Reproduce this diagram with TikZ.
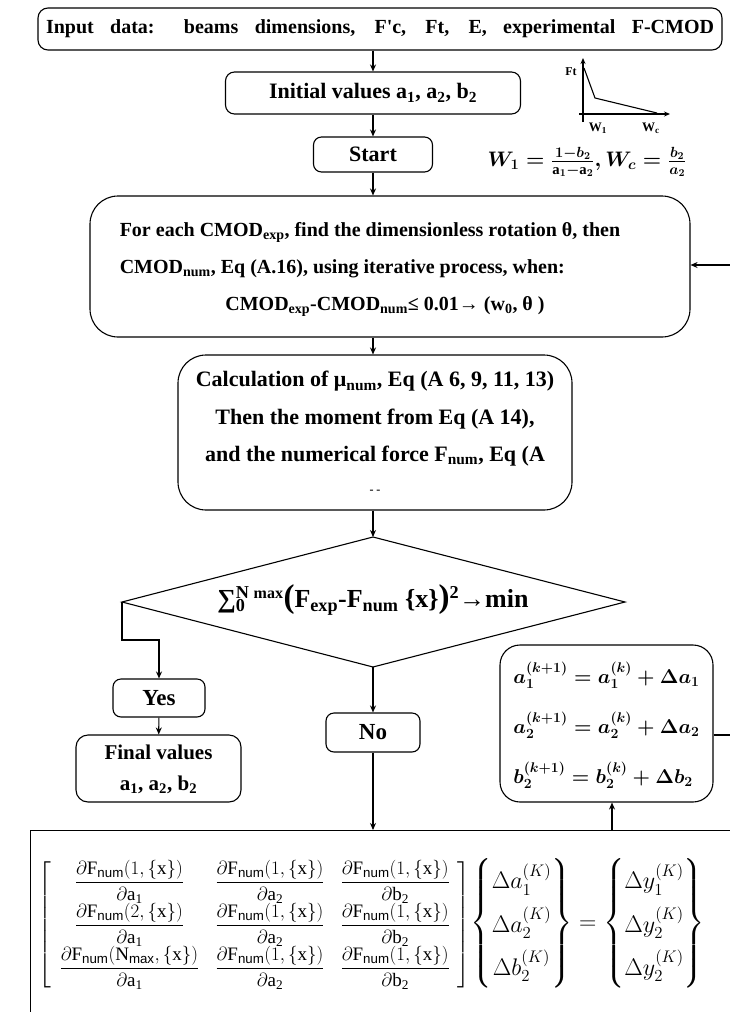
\RequirePackage{fix-cm}
\documentclass[tikz,border=0pt]{standalone}
\usepackage{amsmath,amssymb}
\usepackage{fontspec}
\setmainfont{Liberation Serif}
\setsansfont{Liberation Sans}
\usetikzlibrary{arrows.meta}
\newcommand{\bigpar}[1]{{\fontsize{33}{33}\selectfont #1}}
\newcommand{\dectext}{∑\rlap{\textsubscript{0}}\textsuperscript{N \fontsize{16}{16}\selectfont max}\bigpar{(}F\textsubscript{exp}-F\textsubscript{num} \{x\}\bigpar{)}\textsuperscript{2}→min}
\newcommand{\pf}[2]{\dfrac{\partial \mathrm{F}_{\mathsf{num}}(#1,\{\mathrm{x}\})}{\partial \mathrm{#2}}}
\begin{document}
\begin{tikzpicture}[x=1pt,y=-1pt,
  line width=1.1pt,
  >={Stealth[length=7pt,width=6pt]},
  rbox/.style={draw,rounded corners=#1,inner sep=0pt,align=center},
  lbl/.style={inner sep=0pt},
  fs/.style={font=\bfseries\fontsize{#1}{#1}\selectfont}
]
\useasboundingbox (0,0) rectangle (730,1012);
\coordinate (col) at (373,0);
\coordinate (upx) at (612,0);

% boxes
\node[rbox=10pt,minimum width=684pt,minimum height=42pt,fs=20] (input) at (380,29)
  {\makebox[668pt][s]{Input data: beams dimensions, F\textquotesingle c, Ft, E, experimental F-CMOD}};
\node[rbox=9pt,minimum width=295pt,minimum height=42pt,fs=22] (init) at (373,93)
  {Initial values a\textsubscript{1}, a\textsubscript{2}, b\textsubscript{2}};
\node[rbox=8pt,minimum width=119pt,minimum height=35pt,fs=22] (start) at (373,154.5) {Start};
\node[rbox=28pt,minimum width=600pt,minimum height=141pt,fs=20] (each) at (390,266.5)
  {\renewcommand{\arraystretch}{1.85}\begin{tabular}{@{}l@{}}
   For each CMOD\textsubscript{exp}, find the dimensionless rotation θ, then\\
   CMOD\textsubscript{num}, Eq (A.16), using iterative process, when:\\
   \multicolumn{1}{@{}c@{}}{\hspace{30pt}CMOD\textsubscript{exp}-CMOD\textsubscript{num}≤ 0.01→ (w\textsubscript{0}, θ )}
  \end{tabular}\hspace*{40pt}};
\node[rbox=28pt,minimum width=394pt,minimum height=155pt,fs=22] (calc) at (375,432.5)
  {\renewcommand{\arraystretch}{1.7}\begin{tabular}{@{}c@{}}
   Calculation of μ\textsubscript{num}, Eq (A 6, 9, 11, 13)\\
   Then the moment from Eq (A 14),\\
   and the numerical force F\textsubscript{num}, Eq (A\\[-6pt]
   {\fontsize{12}{12}\selectfont - -}
  \end{tabular}};
\coordinate (dN) at (373,537);
\coordinate (dS) at (373,667);
\coordinate (dW) at (122,602);
\coordinate (dE) at (625,602);
\draw (dN) -- (dE) -- (dS) -- (dW) -- cycle;
\node[lbl,fs=26] (dec) at (373,600) {\dectext};
\node[rbox=8pt,minimum width=92pt,minimum height=38pt,fs=23] (yes) at (159,698) {Yes};
\node[rbox=12pt,minimum width=165pt,minimum height=67pt,fs=21] (final) at (158.5,768.5)
  {\renewcommand{\arraystretch}{1.5}\begin{tabular}{@{}c@{}}Final values\\a\textsubscript{1}, a\textsubscript{2}, b\textsubscript{2}\end{tabular}};
\node[rbox=8pt,minimum width=94pt,minimum height=39pt,fs=23] (no) at (373,732.5) {No};
\node[rbox=20pt,minimum width=213pt,minimum height=157pt,fs=20] (upd) at (606.5,723.5)
  {{\boldmath\renewcommand{\arraystretch}{2.5}\begin{tabular}{@{}l@{}}
   $a_1^{(k+1)} = a_1^{(k)} + \Delta a_1$\\
   $a_2^{(k+1)} = a_2^{(k)} + \Delta a_2$\\
   $b_2^{(k+1)} = b_2^{(k)} + \Delta b_2$
  \end{tabular}}};
\node[draw,sharp corners,minimum width=720pt,minimum height=200pt,anchor=north west,inner sep=0pt] (sys) at (30,830) {};
\node[lbl] (mat) at (372,924) {{\fontsize{19}{19}\selectfont
  $\left[\renewcommand{\arraystretch}{1.05}\setlength{\arraycolsep}{8pt}\begin{array}{ccc}
   \pf{1}{a_1} & \pf{1}{a_2} & \pf{1}{b_2} \\
   \pf{2}{a_1} & \pf{1}{a_2} & \pf{1}{b_2} \\
   \pf{\mathrm{N}_{\mathsf{max}}}{a_1} & \pf{1}{a_2} & \pf{1}{b_2}
  \end{array}\right]$}{\fontsize{24}{24}\selectfont
  $\left\{\renewcommand{\arraystretch}{1.8}\begin{array}{@{}c@{}}
   \Delta a_1^{(K)}\\ \Delta a_2^{(K)}\\ \Delta b_2^{(K)}\end{array}\right\}
  =\left\{\renewcommand{\arraystretch}{1.8}\begin{array}{@{}c@{}}
   \Delta y_1^{(K)}\\ \Delta y_2^{(K)}\\ \Delta y_2^{(K)}\end{array}\right\}$}};

% small chart
\node[lbl,fs=12] (ft) at (571,72) {Ft};
\coordinate (yb) at (583,122);
\coordinate (yt) at (583,58);
\coordinate (xl) at (579,114);
\coordinate (xr) at (670,114);
\draw[-{Stealth[length=6pt,width=5pt]}] (yb) -- (yt);
\draw[-{Stealth[length=6pt,width=5pt]}] (xl) -- (xr);
\coordinate (c1) at (584,68);
\coordinate (c2) at (595,98);
\coordinate (c3) at (657,113);
\draw (c1) -- (c2) -- (c3);
\node[lbl,fs=13] (w1) at (598,128) {W\textsubscript{1}};
\node[lbl,fs=13] (wc) at (651,128) {W\textsubscript{c}};
\node[lbl,font=\fontsize{21}{21}\selectfont] (wform) at (587,162)
  {{\boldmath$W_1=\frac{1-b_2}{\mathrm{a}_1-\mathrm{a}_2}, W_c=\frac{b_2}{a_2}$}};

% connectors
\draw[->] (input.south -| col) -- (init.north -| col);
\draw[->] (init.south -| col) -- (start.north -| col);
\draw[->] (start.south -| col) -- (each.north -| col);
\draw[->] (each.south -| col) -- (calc.north -| col);
\draw[->] (calc.south -| col) -- (dN);
\draw[->] (dW) -- ++(0,38) -| (yes.north);
\draw[->] (yes) -- (final);
\draw[->] (dS) -- (no.north);
\draw[->] (no.south) -- (no.south |- sys.north);
\draw[->] (sys.north -| upx) -- (upd.south -| upx);
\coordinate (fbA) at (733,735);
\coordinate (fbB) at (733,265);
\draw[->] (upd.east |- fbA) -- (fbA) -- (fbB) -- (each.east |- fbB);
\end{tikzpicture}
\end{document}
